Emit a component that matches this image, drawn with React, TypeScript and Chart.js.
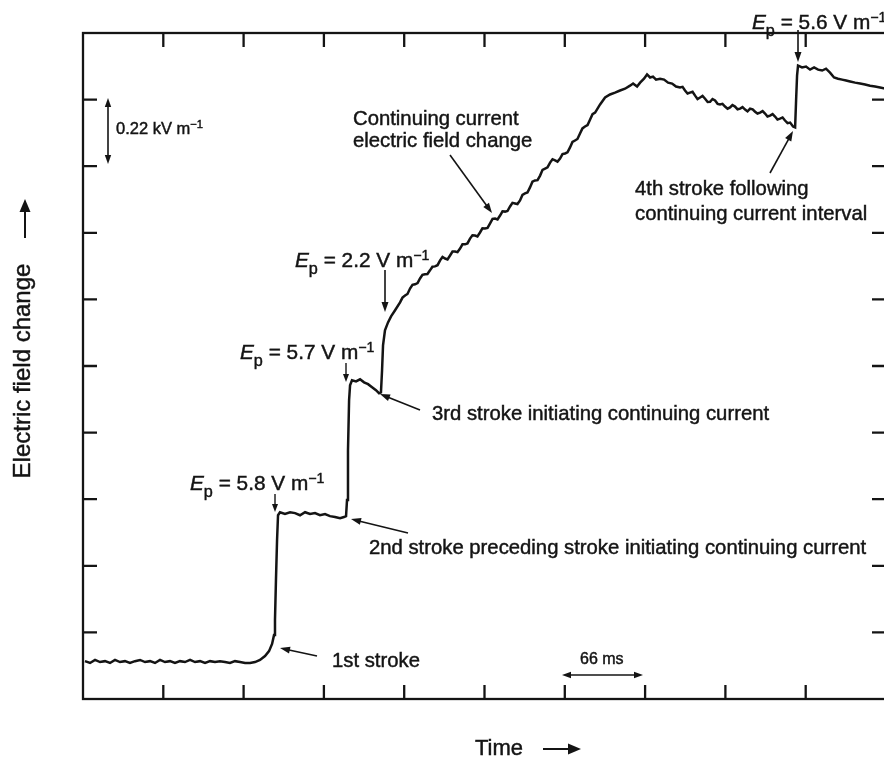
import React, { useEffect, useRef } from "react";
import { Chart, registerables } from "chart.js";

Chart.register(...registerables);

// [time in ms (one tick = 66 ms), field change in V/m (one tick = 0.22 kV/m)]
const baselineTrace: [number, number][] = [
  [1.6, 125], [5.8, 119], [9.9, 129], [14.0, 122], [18.1, 125], [22.2, 119], [26.3, 129], [30.4, 122],
  [34.5, 125], [38.6, 119], [42.7, 125], [46.9, 129], [51.0, 122], [55.1, 125], [59.2, 119], [63.3, 129],
  [67.4, 122], [71.5, 125], [75.6, 119], [79.7, 125], [83.8, 122], [88.0, 129], [92.1, 122], [96.2, 125],
  [100.3, 119], [104.4, 125], [108.5, 122], [112.6, 125], [116.7, 122], [120.8, 119], [124.9, 125],
  [129.1, 122], [133.2, 119], [137.3, 119], [141.4, 122], [145.5, 129], [149.6, 142], [152.9, 158],
  [155.4, 182], [157.0, 211], [157.8, 261], [158.6, 393], [159.5, 525], [160.3, 607],
];

const stroke1Trace: [number, number][] = [
  [161.9, 617], [166.0, 611], [170.2, 617], [174.3, 614], [178.4, 607], [182.5, 617], [186.6, 611],
  [190.7, 614], [194.8, 607], [198.9, 611], [203.0, 604], [207.1, 601], [211.3, 597], [214.5, 601],
  [216.2, 604],
];

const stroke2Trace: [number, number][] = [
  [217.0, 657], [217.8, 822], [218.7, 987], [219.5, 1036], [221.1, 1053], [224.4, 1049], [227.7, 1056],
  [231.0, 1046], [234.3, 1040], [237.6, 1030], [240.8, 1020], [243.3, 1010], [244.9, 1013],
];

const continuingTrace: [number, number][] = [
  [245.8, 1086], [246.6, 1168], [248.2, 1218], [250.7, 1244], [253.2, 1264], [256.5, 1284],
  [260.6, 1310], [262.6, 1326], [264.7, 1333], [266.7, 1338], [268.8, 1356], [270.8, 1368],
  [272.9, 1370], [275.0, 1374], [277.0, 1389], [279.0, 1401], [281.1, 1403], [283.1, 1404],
  [285.2, 1416], [287.2, 1428], [289.3, 1429], [291.4, 1433], [293.5, 1449], [295.5, 1460],
  [297.6, 1455], [299.6, 1452], [301.7, 1465], [303.7, 1478], [305.8, 1478], [307.8, 1476],
  [309.9, 1488], [311.9, 1502], [314.0, 1502], [316.0, 1505], [318.1, 1521], [320.1, 1532],
  [322.2, 1531], [324.2, 1528], [326.3, 1541], [328.3, 1555], [330.4, 1554], [332.5, 1556],
  [334.6, 1571], [336.6, 1586], [338.7, 1587], [340.7, 1584], [342.8, 1597], [344.8, 1611],
  [346.9, 1610], [348.9, 1612], [351.0, 1627], [353.0, 1639], [355.1, 1637], [357.1, 1635],
  [359.2, 1647], [361.2, 1665], [363.3, 1670], [365.3, 1673], [367.4, 1690], [369.4, 1709],
  [371.5, 1713], [373.6, 1714], [375.7, 1729], [377.7, 1748], [379.8, 1752], [381.8, 1756],
  [383.9, 1772], [385.9, 1783], [388.0, 1779], [390.0, 1775], [392.1, 1785], [394.1, 1800],
  [396.2, 1802], [398.2, 1806], [400.3, 1822], [402.3, 1840], [404.4, 1845], [406.4, 1850],
  [408.5, 1868], [410.5, 1885], [412.6, 1891], [414.7, 1896], [416.8, 1914], [418.8, 1932],
  [420.9, 1937], [425.0, 1964], [429.1, 1987], [433.2, 1997], [437.3, 2003], [441.4, 2010],
  [445.5, 2016], [449.6, 2026], [452.1, 2033], [455.4, 2023], [457.9, 2036], [461.1, 2049],
  [463.6, 2063], [466.1, 2053], [468.5, 2056], [471.0, 2046], [474.3, 2049], [477.6, 2046],
  [480.9, 2036], [484.2, 2033], [487.4, 2023], [490.7, 2020], [492.8, 2022], [494.8, 2010],
  [496.9, 2000], [498.9, 2003], [501.0, 2006], [503.1, 1993], [505.1, 1982], [507.2, 1987],
  [509.2, 1992], [511.3, 1983], [513.4, 1972], [515.4, 1973], [517.4, 1982], [519.5, 1977],
  [521.6, 1966], [523.6, 1964], [525.6, 1966], [527.7, 1957], [529.8, 1950], [531.8, 1954],
  [533.8, 1962], [535.9, 1957], [538.0, 1948], [540.1, 1950], [542.1, 1955], [544.2, 1947],
  [546.2, 1941], [548.3, 1950], [550.4, 1948], [552.4, 1940], [554.4, 1934], [556.5, 1937],
  [558.6, 1942], [560.6, 1934], [562.6, 1924], [564.7, 1927], [566.8, 1932], [568.8, 1924],
  [570.8, 1914], [572.9, 1917], [575.0, 1921], [577.0, 1911], [579.1, 1902], [581.2, 1904],
  [583.6, 1891], [585.3, 1888],
];

const stroke4Trace: [number, number][] = [
  [586.1, 1977], [586.9, 2059], [587.7, 2092], [591.0, 2086], [594.3, 2089], [597.6, 2079],
  [600.9, 2086], [604.2, 2079], [607.5, 2076], [610.7, 2082], [614.0, 2069], [617.3, 2053],
  [620.6, 2049], [623.9, 2046], [627.2, 2043], [630.5, 2040], [634.6, 2036], [638.7, 2033],
  [642.8, 2030], [646.9, 2026], [651.0, 2023], [655.1, 2020], [660.1, 2016],
];

const xTickValues = [66, 132, 198, 264, 330, 396, 462, 528, 594];
const yTickValues = [220, 440, 660, 880, 1100, 1320, 1540, 1760, 1980];

const FONT = '"Liberation Sans", Arial, Helvetica, sans-serif';
const INK = "#141414";

type Part = [string, "n" | "i" | "sub" | "sup"];

function rich(ctx: CanvasRenderingContext2D, x: number, cy: number, size: number, parts: Part[]) {
  const base = cy + size * 0.36;
  let cx = x;
  ctx.lineWidth = 0.45;
  for (const [txt, st] of parts) {
    let s = size;
    let dy = 0;
    let style = "";
    if (st === "i") style = "italic ";
    if (st === "sub") { s = size * 0.78; dy = size * 0.3; }
    if (st === "sup") { s = size * 0.68; dy = -size * 0.38; }
    ctx.font = `${style}${s}px ${FONT}`;
    ctx.fillText(txt, cx, base + dy);
    ctx.strokeText(txt, cx, base + dy);
    cx += ctx.measureText(txt).width;
  }
}

function arrow(ctx: CanvasRenderingContext2D, x1: number, y1: number, x2: number, y2: number, head = 9, w = 3.2, lw = 1.5) {
  const ang = Math.atan2(y2 - y1, x2 - x1);
  ctx.lineWidth = lw;
  ctx.beginPath();
  ctx.moveTo(x1, y1);
  ctx.lineTo(x2 - Math.cos(ang) * head * 0.8, y2 - Math.sin(ang) * head * 0.8);
  ctx.stroke();
  ctx.beginPath();
  ctx.moveTo(x2, y2);
  ctx.lineTo(x2 - Math.cos(ang) * head - Math.sin(ang) * w, y2 - Math.sin(ang) * head + Math.cos(ang) * w);
  ctx.lineTo(x2 - Math.cos(ang) * head + Math.sin(ang) * w, y2 - Math.sin(ang) * head - Math.cos(ang) * w);
  ctx.closePath();
  ctx.fill();
}

const framePlugin = {
  id: "framePlugin",
  afterDraw(chart: any) {
    const ctx: CanvasRenderingContext2D = chart.ctx;
    const { left, right, top, bottom } = chart.chartArea;
    const xs = chart.scales.x;
    const ys = chart.scales.y;
    ctx.save();
    ctx.strokeStyle = INK;
    ctx.fillStyle = INK;
    ctx.lineWidth = 2.3;
    ctx.strokeRect(left, top, right - left, bottom - top);
    const tl = 14;
    ctx.beginPath();
    for (const v of xTickValues) {
      const px = xs.getPixelForValue(v);
      ctx.moveTo(px, bottom); ctx.lineTo(px, bottom - tl);
      ctx.moveTo(px, top); ctx.lineTo(px, top + tl);
    }
    for (const v of yTickValues) {
      const py = ys.getPixelForValue(v);
      ctx.moveTo(left, py); ctx.lineTo(left + tl, py);
      ctx.moveTo(right, py); ctx.lineTo(right - tl, py);
    }
    ctx.stroke();

    ctx.textAlign = "left";
    ctx.textBaseline = "alphabetic";
    const S = 20.3;
    const SE = 20.8;
    rich(ctx, 353, 118, S, [["Continuing current", "n"]]);
    rich(ctx, 353, 140, S, [["electric field change", "n"]]);
    rich(ctx, 635, 188, S, [["4th stroke following", "n"]]);
    rich(ctx, 635, 213, S, [["continuing current interval", "n"]]);
    rich(ctx, 432, 413, S, [["3rd stroke initiating continuing current", "n"]]);
    rich(ctx, 369, 547, S, [["2nd stroke preceding stroke initiating continuing current", "n"]]);
    rich(ctx, 332, 660, S, [["1st stroke", "n"]]);

    rich(ctx, 190, 483, SE, [["E", "i"], ["p", "sub"], [" = 5.8 V m", "n"], ["\u22121", "sup"]]);
    rich(ctx, 240, 352, SE, [["E", "i"], ["p", "sub"], [" = 5.7 V m", "n"], ["\u22121", "sup"]]);
    rich(ctx, 295, 260, SE, [["E", "i"], ["p", "sub"], [" = 2.2 V m", "n"], ["\u22121", "sup"]]);
    rich(ctx, 752, 22, SE, [["E", "i"], ["p", "sub"], [" = 5.6 V m", "n"], ["\u22121", "sup"]]);

    rich(ctx, 116, 128, 16.5, [["0.22 kV m", "n"], ["\u22121", "sup"]]);
    rich(ctx, 580, 658, 16, [["66 ms", "n"]]);

    // Ep arrows
    arrow(ctx, 275, 494, 275, 512, 8, 3, 1.4);
    arrow(ctx, 346, 363, 346, 382, 8, 3, 1.4);
    arrow(ctx, 385, 270, 385, 312, 10, 3.5, 1.6);
    arrow(ctx, 798, 30, 798, 62, 10, 3.5, 1.6);
    // leaders
    arrow(ctx, 450, 155, 492, 213, 10, 3.5, 1.6);
    arrow(ctx, 770, 173, 793, 131, 10, 3.5, 1.6);
    arrow(ctx, 420, 410, 380, 394, 10, 3.5, 1.6);
    arrow(ctx, 408, 533, 351, 519, 10, 3.5, 1.6);
    arrow(ctx, 317, 656, 280, 648, 10, 3.5, 1.6);
    // scale bars
    arrow(ctx, 108, 131, 108, 98, 9, 3.2, 1.6);
    arrow(ctx, 108, 131, 108, 164, 9, 3.2, 1.6);
    arrow(ctx, 602, 675, 562, 675, 9, 3.2, 1.6);
    arrow(ctx, 602, 675, 643, 675, 9, 3.2, 1.6);

    // axis labels
    rich(ctx, 475, 747, 22, [["Time", "n"]]);
    arrow(ctx, 543, 749, 581, 749, 13, 5.5, 2);
    ctx.save();
    ctx.translate(23, 371);
    ctx.rotate(-Math.PI / 2);
    ctx.font = `24px ${FONT}`;
    ctx.textAlign = "center";
    ctx.textBaseline = "middle";
    ctx.lineWidth = 0.45;
    ctx.fillText("Electric field change", 0, 0);
    ctx.strokeText("Electric field change", 0, 0);
    ctx.restore();
    arrow(ctx, 25, 238, 25, 199, 13, 5.5, 2);
    ctx.restore();
  },
};

export default function App() {
  const ref = useRef<HTMLCanvasElement | null>(null);
  useEffect(() => {
    if (!ref.current) return;
    const trace = [...baselineTrace, ...stroke1Trace, ...stroke2Trace, ...continuingTrace, ...stroke4Trace];
    const chart = new Chart(ref.current, {
      type: "line",
      data: {
        datasets: [
          {
            data: trace.map(([t, e]) => ({ x: t, y: e })),
            borderColor: INK,
            borderWidth: 2.5,
            pointRadius: 0,
            tension: 0,
            fill: false,
          },
        ],
      },
      options: {
        animation: false,
        responsive: false,
        events: [],
        layout: { padding: { left: 83, top: 33, right: 14, bottom: 61 } },
        plugins: { legend: { display: false }, tooltip: { enabled: false } },
        scales: {
          x: { type: "linear", min: 0, max: 660, display: false },
          y: { type: "linear", min: 0, max: 2200, display: false },
        },
      },
      plugins: [framePlugin],
    });
    return () => chart.destroy();
  }, []);
  return (
    <div style={{ position: "fixed", left: 0, top: 0, width: 884, height: 760, overflow: "hidden", background: "#fff" }}>
      <canvas ref={ref} width={900} height={760} style={{ display: "block", width: 900, height: 760 }} />
    </div>
  );
}
